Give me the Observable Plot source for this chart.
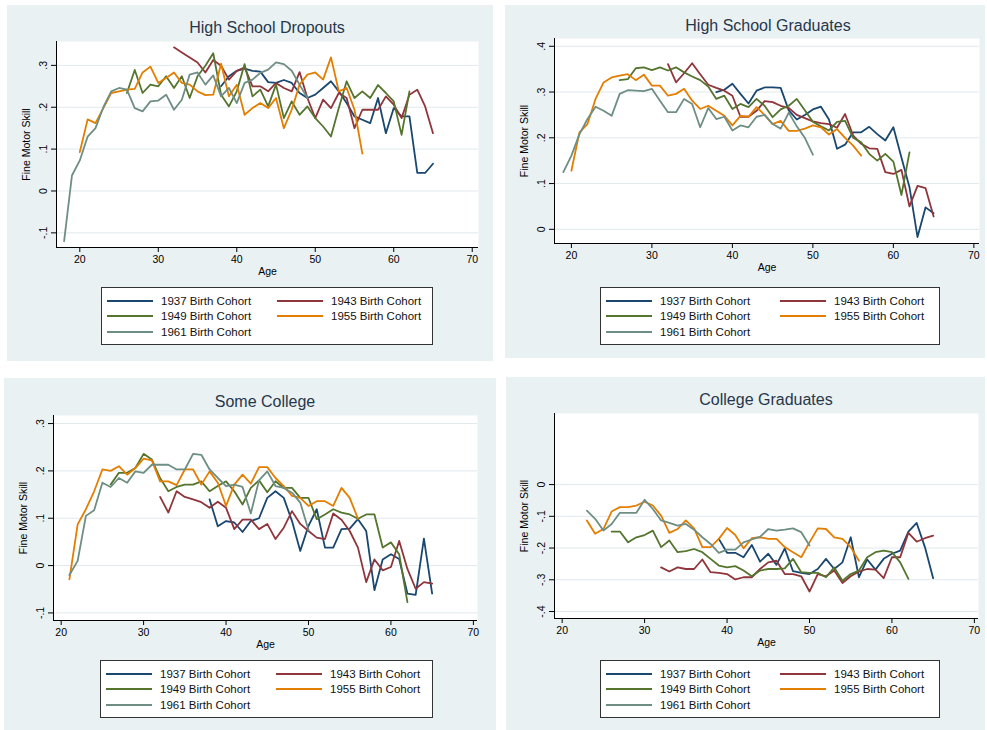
<!DOCTYPE html>
<html><head><meta charset="utf-8">
<script src="https://cdn.jsdelivr.net/npm/d3@7"></script>
<script src="https://cdn.jsdelivr.net/npm/@observablehq/plot@0.6"></script>
<style>
html,body{margin:0;padding:0;background:#fff}
#root{position:relative;width:987px;height:730px;overflow:hidden;font-family:"Liberation Sans",Arial,Helvetica,sans-serif}
.bg{position:absolute;background:#eaf1f3}
.title{position:absolute;font-size:16px;color:#26374b;white-space:nowrap;transform:translate(-50%,-50%)}
.legend{position:absolute;background:#fff;border:1px solid #333;box-sizing:border-box}
.item{position:absolute;display:flex;align-items:center;height:14px;transform:translateY(-50%)}
.sw{width:46px;height:0;border-top:2px solid}
.lab{margin-left:8px;font-size:11.5px;color:#111;white-space:nowrap}
.chart{position:absolute}
</style></head><body><div id="root"></div>
<script>
// ---------- data ----------
const cohorts = ["1937 Birth Cohort", "1943 Birth Cohort", "1949 Birth Cohort", "1955 Birth Cohort", "1961 Birth Cohort"];
const xTicks = [20, 30, 40, 50, 60, 70];

// High School Dropouts (first age of each cohort, then values by single year of age)
const hsdStart = [38, 32, 26, 20, 18];
const hsd1937 = [.25,.274,.287,.292,.287,.285,.26,.258,.265,.258,.234,.222,.23,.246,.262,.238,.21,.178,.17,.162,.222,.138,.198,.178,.178,.043,.043,.065];
const hsd1943 = [.343,.331,.319,.307,.283,.313,.299,.266,.287,.295,.25,.25,.238,.258,.246,.238,.284,.222,.174,.218,.198,.234,.222,.15,.194,.194,.194,.226,.206,.174,.23,.242,.202,.138];
const hsd1949 = [.234,.289,.234,.254,.25,.274,.246,.274,.222,.274,.299,.329,.23,.202,.238,.303,.226,.242,.202,.254,.174,.214,.182,.202,.174,.154,.13,.198,.262,.222,.238,.222,.253,.234,.214,.134,.238];
const hsd1955 = [.093,.171,.162,.198,.234,.238,.242,.244,.283,.297,.258,.27,.283,.258,.254,.238,.229,.23,.304,.226,.254,.182,.198,.21,.198,.222,.15,.194,.254,.278,.283,.266,.319,.238,.246,.194,.089];
const hsd1961 = [-.12,.037,.073,.13,.15,.2,.238,.246,.242,.198,.19,.214,.216,.23,.194,.218,.278,.283,.254,.276,.226,.246,.21,.258,.266,.282,.29,.307,.303,.287,.254,.222];

// High School Graduates
const hsgStart = [38, 32, 26, 20, 19];
const hsg1937 = [.30,.305,.318,.296,.275,.303,.31,.31,.309,.26,.24,.25,.262,.268,.24,.176,.185,.212,.212,.224,.208,.194,.223,.157,.092,-.017,.048,.035];
const hsg1943 = [.361,.321,.341,.363,.339,.316,.309,.303,.292,.246,.246,.259,.28,.278,.27,.265,.25,.243,.236,.232,.23,.222,.252,.205,.187,.177,.176,.125,.121,.13,.05,.095,.09,.028];
const hsg1949 = [.326,.328,.352,.354,.348,.354,.347,.354,.343,.334,.326,.312,.285,.292,.263,.274,.267,.285,.27,.245,.262,.27,.285,.26,.235,.225,.216,.235,.237,.2,.19,.165,.15,.165,.148,.075,.168];
const hsg1955 = [.128,.212,.23,.285,.321,.332,.336,.339,.326,.338,.314,.314,.292,.296,.307,.281,.263,.27,.259,.248,.227,.248,.246,.267,.25,.23,.237,.215,.215,.22,.227,.223,.207,.219,.2,.183,.161];
const hsg1961 = [.125,.161,.208,.241,.268,.259,.248,.296,.304,.303,.302,.307,.281,.256,.256,.285,.274,.223,.265,.241,.246,.216,.227,.223,.246,.25,.23,.22,.255,.225,.2,.163];

// Some College
const scStart = [38, 32, 26, 21, 21];
const sc1937 = [.14,.083,.094,.091,.071,.094,.1,.143,.157,.143,.094,.031,.084,.119,.038,.038,.077,.078,.098,.073,-.052,.013,.024,.014,-.059,-.062,.057,-.059];
const sc1943 = [.145,.112,.157,.145,.14,.134,.122,.135,.122,.077,.097,.097,.077,.088,.056,.08,.115,.088,.073,.059,.056,.11,.097,.073,.038,-.035,.013,-.01,-.003,.052,-.007,-.049,-.035,-.038];
const sc1949 = [.171,.196,.196,.206,.236,.224,.185,.157,.166,.171,.171,.178,.157,.168,.178,.157,.129,.164,.18,.155,.178,.164,.164,.143,.143,.098,.108,.119,.112,.108,.099,.108,.108,.038,.049,.024,-.077];
const sc1955 = [-.029,.087,.119,.157,.203,.2,.21,.192,.206,.226,.222,.178,.178,.17,.203,.203,.171,.199,.175,.126,.171,.192,.173,.208,.208,.185,.168,.147,.143,.126,.136,.136,.126,.164,.143,.099];
const sc1961 = [-.02,.01,.105,.117,.175,.166,.185,.175,.199,.196,.213,.213,.213,.203,.203,.236,.234,.203,.185,.168,.171,.166,.11,.18,.199,.168,.164,.154,.133,.075];

// College Graduates
const cgStart = [39, 32, 26, 23, 23];
const cg1937 = [-.171,-.215,-.215,-.229,-.19,-.243,-.218,-.253,-.201,-.273,-.278,-.282,-.266,-.234,-.266,-.245,-.166,-.292,-.236,-.268,-.234,-.218,-.208,-.148,-.121,-.197,-.295];
const cg1943 = [-.261,-.274,-.261,-.266,-.266,-.236,-.276,-.278,-.282,-.299,-.292,-.292,-.266,-.245,-.24,-.282,-.282,-.289,-.337,-.282,-.289,-.271,-.31,-.289,-.274,-.266,-.268,-.295,-.229,-.229,-.152,-.18,-.169,-.161];
const cg1949 = [-.148,-.148,-.182,-.166,-.159,-.145,-.197,-.176,-.213,-.21,-.203,-.213,-.234,-.255,-.261,-.257,-.271,-.289,-.271,-.266,-.266,-.264,-.234,-.276,-.278,-.278,-.292,-.261,-.303,-.282,-.271,-.229,-.213,-.208,-.213,-.245,-.297];
const cg1955 = [-.113,-.155,-.14,-.085,-.071,-.071,-.066,-.054,-.066,-.098,-.152,-.14,-.113,-.138,-.197,-.197,-.171,-.137,-.159,-.201,-.169,-.166,-.171,-.171,-.197,-.213,-.229,-.182,-.138,-.14,-.166,-.171,-.197,-.24];
const cg1961 = [-.082,-.108,-.145,-.124,-.089,-.089,-.089,-.048,-.077,-.113,-.121,-.129,-.124,-.142,-.166,-.187,-.215,-.205,-.205,-.182,-.173,-.165,-.14,-.145,-.142,-.138,-.15,-.192];

const panelTitles = ["High School Dropouts", "High School Graduates", "Some College", "College Graduates"];
const yTicksHSD = [-0.1, 0, 0.1, 0.2, 0.3];
const yTicksHSG = [0, 0.1, 0.2, 0.3, 0.4];
const yTicksSC = [-0.1, 0, 0.1, 0.2, 0.3];
const yTicksCG = [-0.4, -0.3, -0.2, -0.1, 0];

// ---------- styles / layout ----------
const palette = ["#1a476f", "#90353b", "#55752f", "#e37e00", "#6e8e84"];
const layouts = [
  {bg:[7,5,486,356],   plot:[56,41,478,247],  xd:[17.03,70.8], yd:[-0.135,0.357], titleXY:[267,28],  legend:[101,287,332,58]},
  {bg:[505,5,480,353], plot:[554,38,979,243], xd:[17.9,70.7],  yd:[-0.031,0.417], titleXY:[768,26],  legend:[600,287,340,58]},
  {bg:[4,378,492,352], plot:[53,415,477,620], xd:[19.07,70.5], yd:[-0.116,0.317], titleXY:[265,402], legend:[100,660,333,58]},
  {bg:[506,377,479,353],plot:[554,413,978,618],xd:[19.07,70.5], yd:[-0.422,0.224], titleXY:[766,400], legend:[600,660,340,58]}
];
const panelData = [
  [hsdStart, [hsd1937, hsd1943, hsd1949, hsd1955, hsd1961], yTicksHSD],
  [hsgStart, [hsg1937, hsg1943, hsg1949, hsg1955, hsg1961], yTicksHSG],
  [scStart,  [sc1937, sc1943, sc1949, sc1955, sc1961], yTicksSC],
  [cgStart,  [cg1937, cg1943, cg1949, cg1955, cg1961], yTicksCG]
];

function rows(starts, series) {
  const out = [];
  series.forEach((vals, i) => vals.forEach((v, j) => out.push({cohort: cohorts[i], age: starts[i] + j, v})));
  return out;
}
const fmtY = d => Math.abs(d) < 1e-9 ? "0" : (d < 0 ? "-" : "") + "." + Math.round(Math.abs(d) * 10);

const root = document.getElementById("root");
const ML = 52, MR = 3, MT = 2, MB = 38;
layouts.forEach((L, p) => {
  const [starts, series, yt] = panelData[p];
  const bg = document.createElement("div");
  bg.className = "bg";
  Object.assign(bg.style, {left: L.bg[0]+"px", top: L.bg[1]+"px", width: L.bg[2]+"px", height: L.bg[3]+"px"});
  root.appendChild(bg);

  const [l, t, r, b] = L.plot;
  const data = rows(starts, series);
  const chart = Plot.plot({
    width: (r - l) + ML + MR, height: (b - t) + MT + MB,
    marginLeft: ML, marginRight: MR, marginTop: MT, marginBottom: MB,
    style: {background: "transparent", fontFamily: "'Liberation Sans', Arial, sans-serif", color: "#000", overflow: "visible"},
    x: {domain: L.xd},
    y: {domain: L.yd},
    color: {domain: cohorts, range: palette},
    marks: [
      Plot.frame({fill: "white", stroke: null}),
      Plot.gridY(yt, {stroke: "#e1e9ec", strokeOpacity: 1, strokeWidth: 1}),
      Plot.lineY(data, {x: "age", y: "v", stroke: "cohort", strokeWidth: 1.8, curve: "linear"}),
      Plot.ruleX([L.xd[0]], {stroke: "#000", strokeWidth: 1}),
      Plot.ruleY([L.yd[0]], {stroke: "#000", strokeWidth: 1}),
      Plot.axisX(xTicks, {tickSize: 5, fontSize: 10.5, tickPadding: 3, label: "Age", labelAnchor: "center", labelArrow: "none", labelOffset: 27, tickFormat: d => String(d)}),
      Plot.axisY(yt, {tickSize: 5, fontSize: 10.5, tickRotate: -90, tickPadding: 5, tickFormat: fmtY, label: "Fine Motor Skill", labelAnchor: "center", labelArrow: "none", labelOffset: 34})
    ]
  });
  chart.classList.add("chart");
  chart.style.left = (l - ML) + "px";
  chart.style.top = (t - MT) + "px";
  root.appendChild(chart);

  const title = document.createElement("div");
  title.className = "title";
  title.textContent = panelTitles[p];
  title.style.left = L.titleXY[0] + "px";
  title.style.top = L.titleXY[1] + "px";
  root.appendChild(title);

  const lg = document.createElement("div");
  lg.className = "legend";
  Object.assign(lg.style, {left: L.legend[0]+"px", top: L.legend[1]+"px", width: L.legend[2]+"px", height: L.legend[3]+"px"});
  const rowY = [12.5, 28, 44];
  cohorts.forEach((c, i) => {
    const it = document.createElement("div");
    it.className = "item";
    it.style.left = (i % 2 === 0 ? 5 : Math.round(L.legend[2] * 0.527)) + "px";
    it.style.top = rowY[Math.floor(i / 2)] + "px";
    const sw = document.createElement("div");
    sw.className = "sw";
    sw.style.borderTopColor = palette[i];
    const tx = document.createElement("span");
    tx.className = "lab";
    tx.textContent = c;
    it.appendChild(sw); it.appendChild(tx);
    lg.appendChild(it);
  });
  root.appendChild(lg);
});
</script></body></html>
